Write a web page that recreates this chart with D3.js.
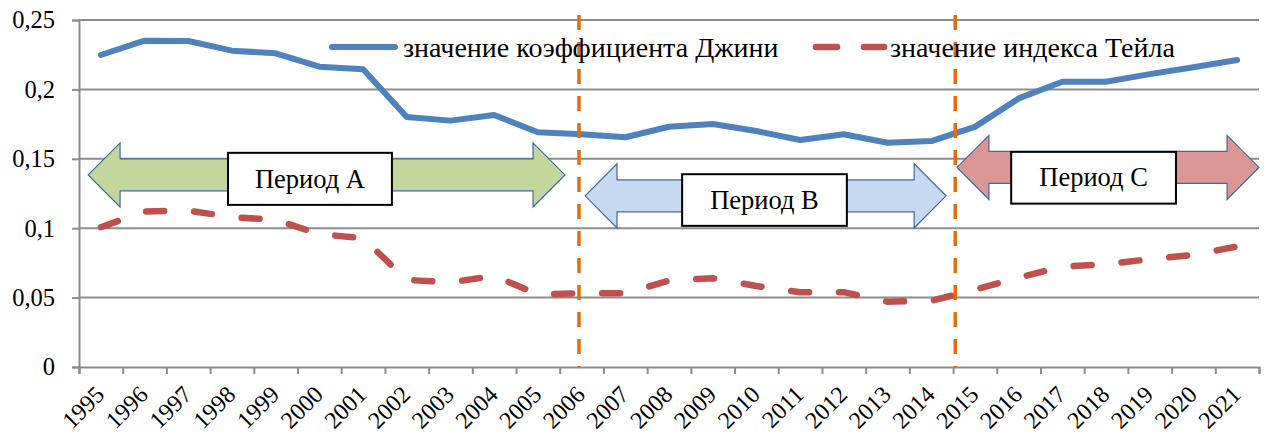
<!DOCTYPE html>
<html>
<head>
<meta charset="utf-8">
<script src="https://cdn.jsdelivr.net/npm/d3@7"></script>
<style>
  html, body { margin: 0; padding: 0; background: #fff; }
  svg { display: block; }
</style>
</head>
<body>
<svg id="chart"></svg>
<script>
// Gini / Theil chart, 1995-2021, with three period arrows

const years = ['1995','1996','1997','1998','1999','2000','2001','2002','2003','2004','2005','2006','2007',
               '2008','2009','2010','2011','2012','2013','2014','2015','2016','2017','2018','2019','2020','2021'];

const giniValues = [0.2248, 0.2351, 0.2349, 0.2279, 0.2260, 0.2164, 0.2145, 0.1801, 0.1775, 0.1816, 0.1691,
                    0.1677, 0.1655, 0.1731, 0.1751, 0.1700, 0.1635, 0.1677, 0.1616, 0.1628, 0.1730, 0.1935,
                    0.2055, 0.2055, 0.2110, 0.2160, 0.2212];

const theilValues = [0.1007, 0.1120, 0.1127, 0.1080, 0.1060, 0.0957, 0.0928, 0.0627, 0.0610, 0.0656, 0.0524,
                     0.0531, 0.0531, 0.0622, 0.0640, 0.0584, 0.0539, 0.0539, 0.0471, 0.0476, 0.0557, 0.0644,
                     0.0723, 0.0740, 0.0777, 0.0808, 0.0868];

const yTicks = [0, 0.05, 0.1, 0.15, 0.2, 0.25];
const yTickLabels = ['0', '0,05', '0,1', '0,15', '0,2', '0,25'];

const seriesNames = ['значение коэффициента Джини', 'значение индекса Тейла'];

// period annotations, positions in category units (0 = left edge of 1995)
const periodNames  = ['Период A', 'Период B', 'Период C'];
const periodSpans  = [[0.21, 11.12], [11.58, 19.84], [20.09, 27.0]];
const periodLevels = [0.1384, 0.1233, 0.1438];
const periodBoxes  = [[3.41, 7.16, 0.1543, 0.1168], [13.80, 17.57, 0.1389, 0.1017], [21.33, 25.10, 0.1550, 0.1177]];
const periodFills  = ['#c3d69b', '#c6d9f1', '#d99694'];
const splitPositions = [11.44, 20.05];

const FONT = "'Liberation Serif', 'Times New Roman', Tinos, serif";

const W = 1270, H = 437;
const M = { top: 20, right: 11, bottom: 70, left: 79 };
const iW = W - M.left - M.right;
const iH = H - M.top - M.bottom;

const svg = d3.select('#chart').attr('width', W).attr('height', H);
const g = svg.append('g').attr('transform', `translate(${M.left},${M.top})`);

// ── Scales ──────────────────────────────────────────────
const x = d3.scaleBand().domain(years).range([0, iW]).padding(0);
const xi = d3.scaleLinear().domain([0, years.length]).range([0, iW]);
const y = d3.scaleLinear().domain([0, 0.25]).range([iH, 0]);
const cx = d => x(d) + x.bandwidth() / 2;

const GRID = '#8c8c8c';

// gridlines
g.append('g').selectAll('line').data(yTicks.slice(1)).join('line')
    .attr('x1', 0).attr('x2', iW)
    .attr('y1', d => y(d)).attr('y2', d => y(d))
    .attr('stroke', GRID).attr('stroke-width', 2);

// y axis
const yAxis = g.append('g')
    .call(d3.axisLeft(y).tickValues(yTicks).tickSize(7).tickPadding(17)
        .tickFormat((d, i) => yTickLabels[i]));
yAxis.select('.domain').attr('stroke', GRID).attr('stroke-width', 2);
yAxis.selectAll('.tick line').attr('stroke', GRID).attr('stroke-width', 2);
yAxis.selectAll('.tick text').attr('fill', '#000')
    .style('font-family', FONT).style('font-size', '24.5px');

// x axis (ticks between categories)
const xAxis = g.append('g').attr('transform', `translate(0,${iH})`)
    .call(d3.axisBottom(xi).tickValues(d3.range(years.length + 1)).tickSize(7).tickFormat(''));
xAxis.select('.domain').attr('stroke', GRID).attr('stroke-width', 2);
xAxis.selectAll('.tick line').attr('stroke', GRID).attr('stroke-width', 2);

g.append('g').selectAll('text').data(years).join('text')
    .attr('transform', d => `translate(${cx(d) + 5},${iH + 29}) rotate(-45)`)
    .attr('text-anchor', 'end')
    .style('font-family', FONT).style('font-size', '24px')
    .text(d => d);

// ── Lines ───────────────────────────────────────────────
const line = d3.line().x((d, i) => cx(years[i])).y(d => y(d));

g.append('path').datum(theilValues)
    .attr('d', line)
    .attr('fill', 'none').attr('stroke', '#c0504d').attr('stroke-width', 6.5)
    .attr('stroke-linecap', 'round').attr('stroke-dasharray', '18 30');

g.append('path').datum(giniValues)
    .attr('d', line)
    .attr('fill', 'none').attr('stroke', '#4f81bd').attr('stroke-width', 6)
    .attr('stroke-linejoin', 'round').attr('stroke-linecap', 'round');

// ── Period arrows ───────────────────────────────────────
const headLen = 0.73, headHalf = 0.0231, bodyHalf = 0.0115;
function arrowPath(span, c) {
    const [a, b] = span;
    const pts = [
        [a, c], [a + headLen, c + headHalf], [a + headLen, c + bodyHalf], [b - headLen, c + bodyHalf],
        [b - headLen, c + headHalf], [b, c], [b - headLen, c - headHalf], [b - headLen, c - bodyHalf],
        [a + headLen, c - bodyHalf], [a + headLen, c - headHalf]
    ];
    return d3.line().x(p => xi(p[0])).y(p => y(p[1]))(pts) + 'Z';
}

const periods = periodNames.map((name, i) => ({
    name, span: periodSpans[i], level: periodLevels[i], box: periodBoxes[i], fill: periodFills[i]
}));

const pg = g.append('g');
pg.selectAll('path').data(periods).join('path')
    .attr('d', d => arrowPath(d.span, d.level))
    .attr('fill', d => d.fill).attr('stroke', '#41689c').attr('stroke-width', 1.2);

pg.selectAll('rect').data(periods).join('rect')
    .attr('x', d => xi(d.box[0])).attr('width', d => xi(d.box[1]) - xi(d.box[0]))
    .attr('y', d => y(d.box[2])).attr('height', d => y(d.box[3]) - y(d.box[2]))
    .attr('fill', '#fff').attr('stroke', '#000').attr('stroke-width', 2);

pg.selectAll('text').data(periods).join('text')
    .attr('x', d => xi((d.box[0] + d.box[1]) / 2))
    .attr('y', d => (y(d.box[2]) + y(d.box[3])) / 2)
    .attr('dy', '0.33em')
    .attr('text-anchor', 'middle')
    .style('font-family', FONT).style('font-size', '26.5px')
    .text(d => d.name);

// ── Legend ──────────────────────────────────────────────
const lg = svg.append('g').attr('transform', 'translate(0,47)');
lg.append('line').attr('x1', 332).attr('x2', 395).attr('y1', 0).attr('y2', 0)
    .attr('stroke', '#4f81bd').attr('stroke-width', 6).attr('stroke-linecap', 'round');
lg.append('text').attr('x', 403).attr('y', 10)
    .style('font-family', FONT).style('font-size', '28px').text(seriesNames[0]);
lg.append('line').attr('x1', 816).attr('x2', 884).attr('y1', 0).attr('y2', 0)
    .attr('stroke', '#c0504d').attr('stroke-width', 6.5).attr('stroke-linecap', 'round')
    .attr('stroke-dasharray', '21 27');
lg.append('text').attr('x', 890).attr('y', 10)
    .style('font-family', FONT).style('font-size', '28px').text(seriesNames[1]);

// ── Period split lines ──────────────────────────────────
g.append('g').selectAll('line').data(splitPositions).join('line')
    .attr('x1', d => xi(d)).attr('x2', d => xi(d))
    .attr('y1', y(0.2536)).attr('y2', y(0))
    .attr('stroke', '#e46c0a').attr('stroke-width', 3.5).attr('stroke-dasharray', '15 12');
</script>
</body>
</html>
